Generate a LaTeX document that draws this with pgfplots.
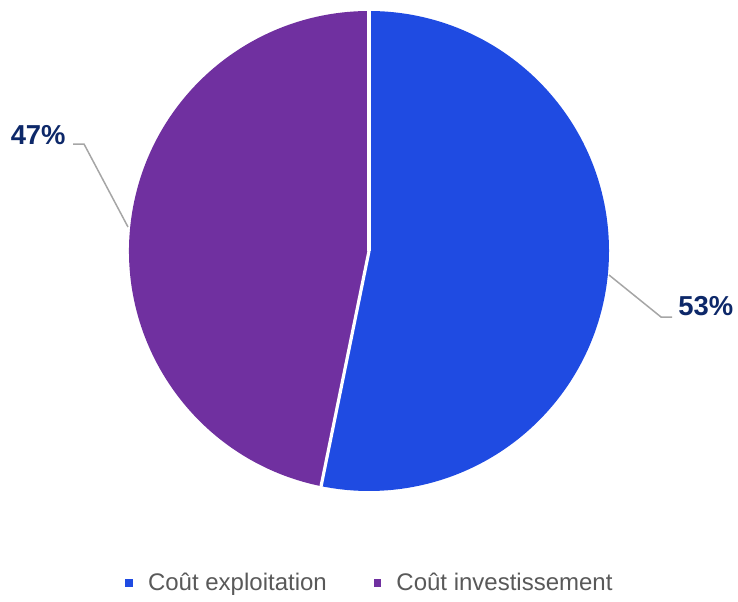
\documentclass[border=0pt]{standalone}
\usepackage{pgfplots}
\usepackage{pgfplotstable}
\pgfplotsset{compat=1.18}
\usepackage{fontspec}
\setmainfont{Liberation Sans}

\definecolor{sliceA}{RGB}{31,75,226}
\definecolor{sliceB}{RGB}{112,48,160}
\definecolor{lblcol}{RGB}{13,40,105}
\definecolor{leader}{RGB}{166,166,166}
\definecolor{legtext}{RGB}{89,89,89}

% part de chaque coût (%)
\pgfplotstableread{
label share
exploitation 53.2
investissement 46.8
}\shares

\begin{document}
\begin{tikzpicture}
\pgfplotstablegetelem{0}{share}\of\shares \let\shareA\pgfplotsretval
\pgfplotstablegetelem{1}{share}\of\shares \let\shareB\pgfplotsretval
\pgfmathsetmacro{\angA}{90-3.6*\shareA}
\pgfmathsetmacro{\angB}{\angA-3.6*\shareB}
\begin{axis}[
  x=0.5pt, y=0.5pt,
  xmin=0, xmax=738, ymin=0, ymax=594,
  hide axis, clip=false,
  legend columns=2,
  legend style={at={(axis cs:371,11)}, anchor=center, draw=none,
    font=\fontsize{12pt}{14pt}\selectfont, text=legtext,
    /tikz/every even column/.append style={column sep=21.5pt},
    /tikz/every odd column/.append style={column sep=5.5pt}},
  legend image code/.code={\fill[#1] (0pt,-1.9pt) rectangle (3.8pt,1.9pt);},
]
  \addlegendimage{fill=sliceA, draw=none}
  \addlegendentry{Coût exploitation}
  \addlegendimage{fill=sliceB, draw=none}
  \addlegendentry{Coût investissement}

  \path (axis cs:0,0) rectangle (axis cs:738,594);

  % secteurs
  \fill[sliceA] (axis cs:369,343) -- ++(90:120pt)
    arc[start angle=90, end angle=\angA, radius=120pt] -- cycle;
  \fill[sliceB] (axis cs:369,343) -- ++(\angA:120pt)
    arc[start angle=\angA, end angle=\angB, radius=120pt] -- cycle;
  \draw[white, line width=1.6pt] (axis cs:369,343) -- ++(90:121pt);
  \draw[white, line width=1.6pt] (axis cs:369,343) -- ++(\angA:121pt);

  % étiquettes
  \draw[leader, line width=0.75pt] (axis cs:128,367) -- (axis cs:84,450) -- (axis cs:73,450);
  \draw[leader, line width=0.75pt] (axis cs:609,319) -- (axis cs:661,277) -- (axis cs:672,277);
  \node[anchor=east, inner sep=0pt, text=lblcol, font=\fontsize{13.7pt}{16pt}\selectfont\bfseries]
    at (axis cs:66,459) {47\%};
  \node[anchor=west, inner sep=0pt, text=lblcol, font=\fontsize{13.7pt}{16pt}\selectfont\bfseries]
    at (axis cs:678,288) {53\%};
\end{axis}
\end{tikzpicture}
\end{document}
